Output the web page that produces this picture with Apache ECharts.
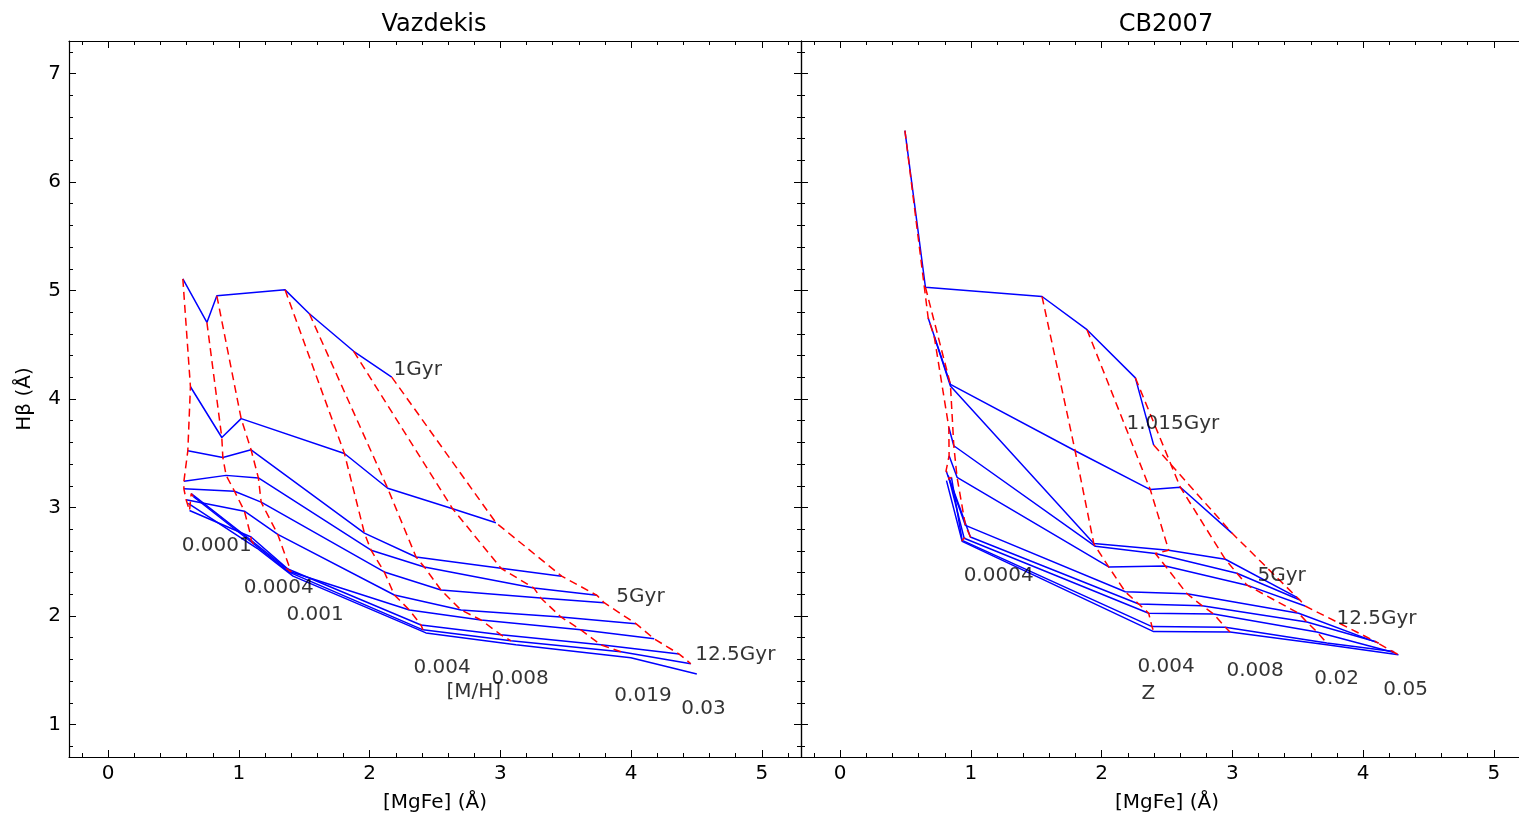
<!DOCTYPE html>
<html>
<head>
<meta charset="utf-8">
<script src="https://cdn.jsdelivr.net/npm/echarts@6/dist/echarts.min.js"></script>
<style>
html,body{margin:0;padding:0;background:#fff;}
#c{width:1519px;height:819px;}
</style>
</head>
<body>
<div id="c"></div>
<script>
// ---- Vazdekis panel: isochrones (rows, young -> old), columns = [M/H] 0.0001 ... 0.03
const vazMgFe = [
  [0.571, 0.755, 0.831, 1.353, 1.539, 1.878, 2.169],
  [0.629, 0.869, 1.017, 1.807, 2.138, 2.635, 2.966],
  [0.609, 0.877, 1.093, 1.960, 2.355, 3.005, 3.469],
  [0.579, 0.902, 1.149, 2.011, 2.418, 3.257, 3.739],
  [0.579, 0.966, 1.170, 2.112, 2.546, 3.310, 3.794],
  [0.596, 1.042, 1.297, 2.189, 2.699, 3.463, 4.037],
  [0.622, 1.093, 1.399, 2.304, 2.852, 3.616, 4.177],
  [0.635, 1.093, 1.361, 2.393, 3.005, 3.769, 4.368],
  [0.650, 1.116, 1.384, 2.408, 3.081, 3.922, 4.457],
  [0.612, 1.139, 1.414, 2.431, 3.119, 3.998, 4.503]
];
const vazHb = [
  [5.107, 4.706, 4.951, 5.006, 4.786, 4.440, 4.202],
  [4.113, 3.645, 3.819, 3.498, 3.177, 2.988, 2.860],
  [3.523, 3.461, 3.532, 2.764, 2.544, 2.440, 2.367],
  [3.241, 3.296, 3.272, 2.606, 2.452, 2.257, 2.190],
  [3.172, 3.150, 3.049, 2.406, 2.239, 2.165, 2.122],
  [3.071, 2.966, 2.752, 2.193, 2.055, 1.991, 1.929],
  [2.972, 2.728, 2.406, 2.055, 1.963, 1.872, 1.789],
  [3.128, 2.697, 2.440, 1.917, 1.826, 1.734, 1.649],
  [3.101, 2.661, 2.404, 1.872, 1.771, 1.670, 1.560],
  [3.037, 2.624, 2.367, 1.844, 1.734, 1.615, 1.465]
];
const vazRedRowCount = 9;

// ---- CB2007 panel: isochrones (rows), columns = Z 0.0001 ... 0.05
const cbMgFe = [
  [0.495, 0.652, 1.544, 1.888, 2.258, 2.398],
  [0.673, 0.843, 1.797, 2.372, 2.602, 2.997],
  [0.719, 0.843, 1.940, 2.513, 2.946, 3.494],
  [0.831, 0.869, 1.952, 2.411, 3.035, 3.517],
  [0.833, 0.894, 2.054, 2.487, 3.112, 3.557],
  [0.810, 0.958, 2.181, 2.653, 3.507, 4.119],
  [0.826, 0.996, 2.284, 2.768, 3.570, 4.092],
  [0.833, 0.948, 2.360, 2.857, 3.647, 4.243],
  [0.851, 0.933, 2.385, 2.946, 3.723, 4.233],
  [0.813, 0.933, 2.398, 2.982, 3.723, 4.271]
];
const cbHb = [
  [6.474, 5.030, 4.945, 4.639, 4.195, 3.575],
  [4.746, 4.135, 3.523, 3.165, 3.186, 2.764],
  [4.578, 4.119, 2.667, 2.606, 2.523, 2.172],
  [3.737, 3.569, 2.642, 2.575, 2.394, 2.147],
  [3.477, 3.278, 2.452, 2.461, 2.284, 2.092],
  [3.339, 2.835, 2.223, 2.205, 2.025, 1.750],
  [3.294, 2.728, 2.110, 2.095, 1.945, 1.764],
  [3.266, 2.716, 2.025, 2.018, 1.853, 1.661],
  [3.278, 2.697, 1.902, 1.896, 1.750, 1.673],
  [3.248, 2.688, 1.856, 1.853, 1.734, 1.642]
];
const cbRedRowCount = 10;

// ---- text annotations [text, MgFe, Hbeta]
const vazNotes = [
  ['1Gyr', 2.187, 4.266], ['5Gyr', 3.891, 2.174], ['12.5Gyr', 4.495, 1.633],
  ['0.0001', 0.566, 2.642], ['0.0004', 1.040, 2.257], ['0.001', 1.368, 2.009],
  ['0.004', 2.339, 1.514], ['0.008', 2.936, 1.413], ['[M/H]', 2.592, 1.294],
  ['0.019', 3.876, 1.257], ['0.03', 4.388, 1.138]
];
const cbNotes = [
  ['1.015Gyr', 2.194, 3.771], ['5Gyr', 3.196, 2.367], ['12.5Gyr', 3.800, 1.972],
  ['0.0004', 0.948, 2.367], ['0.004', 2.278, 1.523], ['Z', 2.309, 1.275],
  ['0.008', 2.959, 1.486], ['0.02', 3.631, 1.413], ['0.05', 4.159, 1.312]
];

const panelTitles = ['Vazdekis', 'CB2007'];
const xName = '[MgFe] (Å)';
const yName = 'Hβ (Å)';
const xRange = [-0.3, 5.3];
const yRange = [0.7, 7.3];

const FONT = 'DejaVu Sans';
const chart = echarts.init(document.getElementById('c'), null, {renderer: 'canvas'});

function baseAxis(extra) {
  return Object.assign({
    type: 'value',
    splitNumber: 5,
    splitLine: {show: false},
    axisLine: {show: true, onZero: false, lineStyle: {color: '#000', width: 1.2}},
    axisTick: {show: true, inside: true, length: 7, lineStyle: {color: '#000', width: 1}},
    minorTick: {show: true, splitNumber: 5, length: 4, lineStyle: {color: '#000', width: 1}},
    axisLabel: {show: false}
  }, extra);
}
const labelStyle = {show: true, color: '#000', fontSize: 20, fontFamily: FONT, showMinLabel: false, showMaxLabel: false};

const xAxes = [], yAxes = [];
[0, 1].forEach(g => {
  xAxes.push(baseAxis({gridIndex: g, position: 'bottom', min: xRange[0], max: xRange[1],
    axisLabel: Object.assign({margin: 7}, labelStyle),
    name: xName, nameLocation: 'middle', nameGap: 36,
    nameTextStyle: {color: '#000', fontSize: 20, fontFamily: FONT}}));
  xAxes.push(baseAxis({gridIndex: g, position: 'top', min: xRange[0], max: xRange[1]}));
  yAxes.push(baseAxis({gridIndex: g, position: 'left', min: yRange[0], max: yRange[1],
    axisLabel: g === 0 ? Object.assign({margin: 8}, labelStyle) : {show: false},
    name: g === 0 ? yName : '', nameLocation: 'middle', nameGap: 34,
    nameTextStyle: {color: '#000', fontSize: 20, fontFamily: FONT}}));
  yAxes.push(baseAxis({gridIndex: g, position: 'right', min: yRange[0], max: yRange[1], show: g === 0}));
});

const series = [];
function addPanel(g, mg, hb, redRows, notes) {
  const xi = g * 2, yi = g * 2;
  mg.forEach((row, i) => {
    series.push({type: 'line', xAxisIndex: xi, yAxisIndex: yi, symbol: 'none', silent: true,
      lineStyle: {color: '#0000ff', width: 1.5}, z: 2,
      data: row.map((x, j) => [x, hb[i][j]])});
  });
  const nCols = mg[0].length;
  for (let j = 0; j < nCols; j++) {
    const pts = [];
    for (let i = 0; i < redRows; i++) pts.push([mg[i][j], hb[i][j]]);
    series.push({type: 'line', xAxisIndex: xi, yAxisIndex: yi, symbol: 'none', silent: true,
      lineStyle: {color: '#ff0000', width: 1.5, type: [8, 5]}, z: 3, data: pts});
  }
  series.push({type: 'scatter', xAxisIndex: xi, yAxisIndex: yi, symbolSize: 1, silent: true,
    itemStyle: {color: 'rgba(0,0,0,0)'}, z: 4,
    label: {show: true, position: [0, 0], align: 'left', verticalAlign: 'middle',
      color: '#000', fontSize: 20, fontFamily: FONT, formatter: p => p.data[2]},
    data: notes.map(n => [n[1], n[2], n[0]])});
}
addPanel(0, vazMgFe, vazHb, vazRedRowCount, vazNotes);
addPanel(1, cbMgFe, cbHb, cbRedRowCount, cbNotes);

chart.setOption({
  animation: false,
  backgroundColor: '#fff',
  title: [
    {text: panelTitles[0], left: 429, top: 8, textAlign: 'center',
      textStyle: {color: '#000', fontSize: 24, fontWeight: 'normal', fontFamily: FONT}},
    {text: panelTitles[1], left: 1161, top: 8, textAlign: 'center',
      textStyle: {color: '#000', fontSize: 24, fontWeight: 'normal', fontFamily: FONT}}
  ],
  grid: [
    {left: 69, top: 41, width: 732, height: 716, outerBoundsMode: 'none', containLabel: false},
    {left: 801, top: 41, width: 732, height: 716, outerBoundsMode: 'none', containLabel: false}
  ],
  xAxis: xAxes,
  yAxis: yAxes,
  series: series
});
</script>
</body>
</html>
